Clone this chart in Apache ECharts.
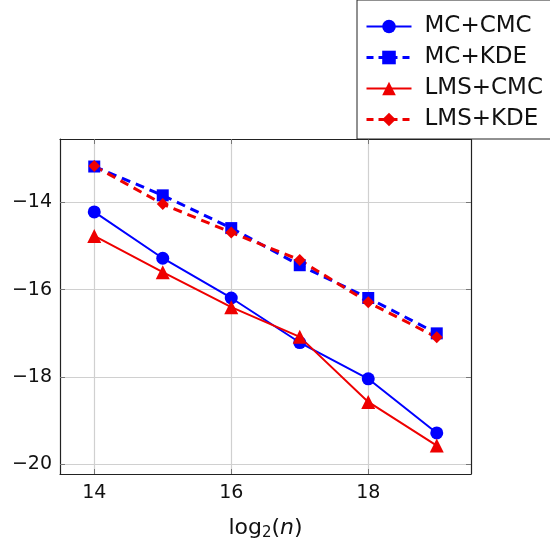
<!DOCTYPE html>
<html><head><meta charset="utf-8">
<script src="https://cdn.jsdelivr.net/npm/echarts@6/dist/echarts.min.js"></script>
<style>html,body{margin:0;padding:0;background:#fff}#c{width:550px;height:541px}</style>
</head><body><div id="c"></div>
<script>
const xValues = [14, 15, 16, 17, 18, 19];
const mcCmc  = [-14.22, -15.28, -16.19, -17.21, -18.04, -19.28];
const mcKde  = [-13.18, -13.84, -14.59, -15.44, -16.19, -17.00];
const lmsCmc = [-14.77, -15.60, -16.40, -17.08, -18.57, -19.57];
const lmsKde = [-13.17, -14.04, -14.69, -15.32, -16.29, -17.09];
const xTicks = [14, 16, 18];
const yTicks = [-20, -18, -16, -14];
const seriesNames = ['MC+CMC', 'MC+KDE', 'LMS+CMC', 'LMS+KDE'];

const FONT = 'DejaVu Sans';
const BLUE = '#0000ff', RED = '#ee0000';
const pair = arr => xValues.map((x, i) => [x, arr[i]]);
const tickStyle = {show: true, inside: true, length: 5, lineStyle: {color: '#777', width: 1}};
const gridStyle = {show: true, lineStyle: {color: '#d0d0d0', width: 1.2}};
const lineAx = {show: true, lineStyle: {color: '#222', width: 1.2}};
const dashed = [false, true, false, true];
const colors = [BLUE, BLUE, RED, RED];

const chart = echarts.init(document.getElementById('c'), null, {renderer: 'canvas'});
function mk(i, data, symbol, size) {
  const color = colors[i];
  return {
    name: seriesNames[i], type: 'line', data: pair(data), symbol, symbolSize: size,
    itemStyle: {color}, lineStyle: {color, width: dashed[i] ? 3 : 2, type: dashed[i] ? [9, 6] : 'solid'},
    animation: false, z: 3
  };
}
chart.setOption({
  animation: false,
  textStyle: {fontFamily: FONT},
  grid: {left: 60, right: 79, top: 139, bottom: 67, outerBoundsMode: 'none', containLabel: false},
  legend: {
    orient: 'vertical', left: 357, top: 0,
    data: seriesNames.map((n, i) => ({
      name: n,
      lineStyle: {color: colors[i], width: dashed[i] ? 3 : 2.2, type: dashed[i] ? [7, 5] : 'solid'}
    })),
    backgroundColor: '#fff', borderColor: '#222', borderWidth: 1,
    padding: [15, 60, 8, 8], itemGap: 8, itemWidth: 45, itemHeight: 17,
    textStyle: {fontFamily: FONT, fontSize: 23, color: '#111', lineHeight: 23, padding: [0, 0, 0, 8]},
    z: 10
  },
  xAxis: [{
    type: 'value', min: 13.5, max: 19.5, position: 'bottom',
    axisLine: lineAx,
    axisTick: Object.assign({customValues: xTicks}, tickStyle),
    splitLine: gridStyle,
    axisLabel: {customValues: xTicks, fontSize: 19, color: '#111', margin: 10, fontFamily: FONT},
    name: '{a|log}{s|2}{a|(}{i|n}{a|)}', nameLocation: 'middle', nameGap: 41,
    nameTextStyle: {rich: {
      a: {fontSize: 22, fontFamily: FONT, color: '#111'},
      s: {fontSize: 15, fontFamily: FONT, color: '#111', verticalAlign: 'bottom', padding: [11, 0, 0, 0]},
      i: {fontSize: 22, fontFamily: FONT, fontStyle: 'italic', color: '#111'}
    }}
  }, {
    type: 'value', min: 13.5, max: 19.5, position: 'top',
    axisLine: lineAx,
    axisTick: Object.assign({customValues: xTicks}, tickStyle),
    splitLine: {show: false}, axisLabel: {show: false}
  }],
  yAxis: [{
    type: 'value', min: -20.22, max: -12.55, position: 'left',
    axisLine: lineAx,
    axisTick: Object.assign({customValues: yTicks}, tickStyle),
    splitLine: gridStyle,
    axisLabel: {customValues: yTicks, fontSize: 19, color: '#111', margin: 8, fontFamily: FONT,
      formatter: v => String(v).replace('-', '\u2212')}
  }, {
    type: 'value', min: -20.22, max: -12.55, position: 'right',
    axisLine: lineAx,
    axisTick: Object.assign({customValues: yTicks}, tickStyle),
    splitLine: {show: false}, axisLabel: {show: false}
  }],
  series: [
    mk(0, mcCmc, 'circle', 13),
    mk(1, mcKde, 'rect', 12),
    mk(2, lmsCmc, 'triangle', 14),
    mk(3, lmsKde, 'diamond', 12)
  ]
});
</script></body></html>
